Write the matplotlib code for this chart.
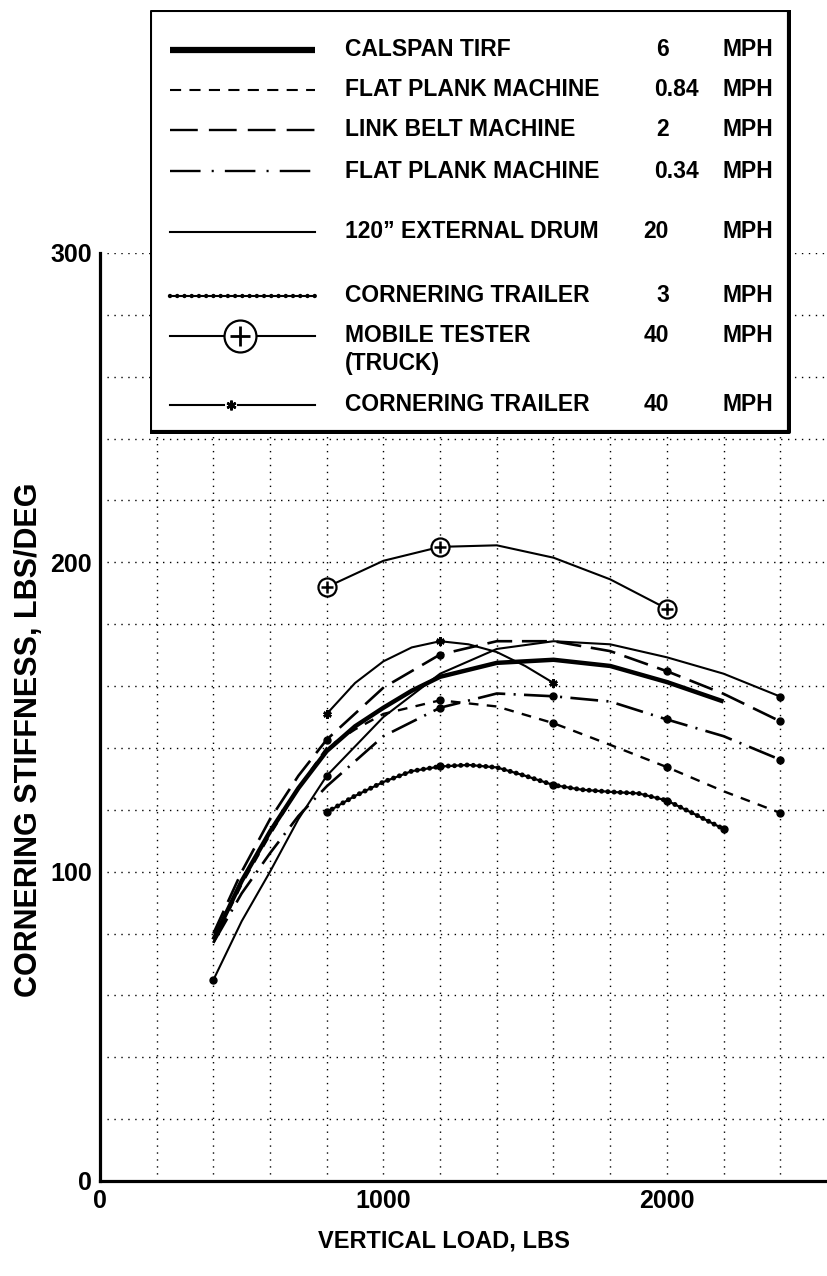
import matplotlib.pyplot as plt

plt.rcParams['font.family'] = ['Liberation Sans', 'DejaVu Sans']
plt.rcParams['font.weight'] = 'bold'
plt.rcParams['lines.scale_dashes'] = False

# vertical load (lbs) vs cornering stiffness (lbs/deg) for each rig
load_tirf = [400, 500, 600, 700, 800, 900, 1000, 1100, 1200, 1400, 1600, 1800, 2000, 2200]
cs_tirf = [78, 97, 113, 127, 139, 147, 153, 158.5, 163, 167.5, 168.5, 166.5, 161.3, 155]

load_plank84 = [400, 500, 600, 700, 800, 900, 1000, 1200, 1400, 1600, 1800, 2000, 2200, 2400]
cs_plank84 = [77, 96, 112, 127, 140, 146, 151, 155.4, 153.4, 148, 141, 133.8, 126, 119]

load_belt = [400, 500, 600, 700, 800, 1000, 1200, 1400, 1600, 1800, 2000, 2200, 2400]
cs_belt = [80, 100, 117, 131, 142.7, 159.5, 170.2, 174.5, 174.5, 171.3, 164.8, 157.5, 148.6]

load_plank34 = [400, 500, 600, 700, 800, 1000, 1200, 1400, 1600, 1800, 2000, 2200, 2400]
cs_plank34 = [77, 93, 106, 118, 127.6, 143.8, 153, 157.6, 156.7, 155, 149.2, 143.8, 136.2]

load_drum = [400, 500, 600, 700, 800, 1000, 1200, 1400, 1600, 1800, 2000, 2200, 2400]
cs_drum = [65, 84, 100, 117, 131, 150, 164, 172, 174.5, 173.5, 169.3, 164, 156.6]

load_ct3 = [800, 900, 1000, 1100, 1200, 1300, 1400, 1500, 1600, 1700, 1800, 1900, 2000, 2100, 2200]
cs_ct3 = [119.2, 124.5, 129, 132.5, 134, 134.5, 133.7, 131, 128, 126.5, 125.8, 125.3, 123, 118.5, 113.8]

load_truck = [800, 1000, 1200, 1400, 1600, 1800, 2000]
cs_truck = [192, 200.5, 205, 205.5, 201.5, 194.5, 185]

load_ct40 = [800, 900, 1000, 1100, 1200, 1300, 1400, 1500, 1600]
cs_ct40 = [151, 161, 168, 172.5, 174.5, 173.5, 171, 166.5, 161]

# loads where test points are marked
marked_plank84 = [1200, 1600, 2000, 2400]
marked_belt = [800, 1200, 2000, 2400]
marked_plank34 = [1200, 1600, 2000, 2400]
marked_drum = [400, 800, 2400]
marked_ct3 = [800, 1200, 1600, 2000, 2200]
marked_truck = [800, 1200, 2000]
marked_ct40 = [800, 1200, 1600]

legend_names = ['CALSPAN TIRF', 'FLAT PLANK MACHINE', 'LINK BELT MACHINE',
                'FLAT PLANK MACHINE', '120\u201d EXTERNAL DRUM', 'CORNERING TRAILER',
                'MOBILE TESTER\n(TRUCK)', 'CORNERING TRAILER']
legend_speeds = ['6', '0.84', '2', '0.34', '20', '3', '40', '40']

W, H = 827, 1276
fig = plt.figure(figsize=(W / 100, H / 100), dpi=100)
ax = fig.add_axes([100 / W, 95 / H, 727 / W, 928 / H])
ax.set_xlim(0, 2565)
ax.set_ylim(0, 300)

xt = list(range(0, 2600, 200))
ax.set_xticks(xt)
ax.set_xticklabels([str(v) if v % 1000 == 0 else '' for v in xt], fontsize=18)
yt = list(range(0, 301, 20))
ax.set_yticks(yt)
ax.set_yticklabels([str(v) if v % 100 == 0 else '' for v in yt], fontsize=18)
ax.tick_params(length=0, pad=6)
ax.grid(True, color='black', linestyle=(0, (1, 4)), linewidth=1)
for s in ['top', 'right']:
    ax.spines[s].set_visible(False)
for s in ['left', 'bottom']:
    ax.spines[s].set_linewidth(2.3)


def idx(loads, marked):
    return [i for i, v in enumerate(loads) if v in marked]


dot = dict(marker='o', markersize=5, markerfacecolor='black', markeredgecolor='black')

ax.plot(load_tirf, cs_tirf, color='black', lw=3.2, solid_capstyle='butt')
ax.plot(load_plank84, cs_plank84, color='black', lw=1.7, linestyle=(0, (7, 6)),
        markevery=idx(load_plank84, marked_plank84), **dot)
ax.plot(load_belt, cs_belt, color='black', lw=1.9, linestyle=(0, (18, 7)),
        markevery=idx(load_belt, marked_belt), **dot)
ax.plot(load_plank34, cs_plank34, color='black', lw=1.9, linestyle=(0, (20, 6, 1.5, 6)),
        markevery=idx(load_plank34, marked_plank34), **dot)
ax.plot(load_drum, cs_drum, color='black', lw=1.5,
        markevery=idx(load_drum, marked_drum), **dot)
ax.plot(load_ct3, cs_ct3, color='black', lw=1.6,
        markevery=idx(load_ct3, marked_ct3), **dot)
ax.plot(load_ct3, cs_ct3, color='black', lw=3.6, linestyle=(0, (0.01, 4.5)),
        dash_capstyle='round')
ax.plot(load_ct40, cs_ct40, color='black', lw=1.5, marker=(6, 2, 0), markersize=6,
        markeredgewidth=1.8, markevery=idx(load_ct40, marked_ct40))
ax.plot(load_truck, cs_truck, color='black', lw=1.5, marker='o', markersize=13,
        markerfacecolor='white', markeredgecolor='black', markeredgewidth=1.6,
        markevery=idx(load_truck, marked_truck))
ax.plot(load_truck, cs_truck, linestyle='none', marker='+', markersize=9,
        markeredgewidth=1.8, color='black', markevery=idx(load_truck, marked_truck))

fig.text(444 / W, 1 - 1241 / H, 'VERTICAL LOAD, LBS', fontsize=17,
         ha='center', va='center')
fig.text(29 / W, 1 - 740 / H, 'CORNERING STIFFNESS, LBS/DEG', fontsize=22,
         rotation=90, ha='center', va='center')

# legend panel, drawn in its own pixel-scaled axes
lx0, ly0, lw_, lh_ = 150, 10, 641, 424
lax = fig.add_axes([lx0 / W, 1 - (ly0 + lh_) / H, lw_ / W, lh_ / H])
lax.set_xlim(0, lw_)
lax.set_ylim(lh_, 0)
lax.axis('off')
lax.fill([0, lw_, lw_, 0], [0, 0, lh_, lh_], color='white', zorder=0)
lax.plot([1, 1, lw_ - 3], [lh_ - 3, 1, 1], color='black', lw=1.5)
lax.plot([lw_ - 2, lw_ - 2, 1], [1, lh_ - 2, lh_ - 2], color='black', lw=3)

rows = [40, 80, 120, 161, 222, 286, 326, 395]
sx = [20, 165]
lax.plot(sx, [rows[0]] * 2, color='black', lw=4.5, solid_capstyle='butt')
lax.plot(sx, [rows[1]] * 2, color='black', lw=1.5, linestyle=(0, (8, 6)))
lax.plot(sx, [rows[2]] * 2, color='black', lw=1.7, linestyle=(0, (20, 8)))
lax.plot(sx, [rows[3]] * 2, color='black', lw=1.7, linestyle=(0, (22, 8, 1.5, 8)))
lax.plot(sx, [rows[4]] * 2, color='black', lw=1.5)
lax.plot(sx, [rows[5]] * 2, color='black', lw=1.5)
lax.plot(sx, [rows[5]] * 2, color='black', lw=3.2, linestyle=(0, (0.01, 5.2)),
         dash_capstyle='round')
lax.plot(sx, [rows[6]] * 2, color='black', lw=1.5)
lax.plot([90], [rows[6]], marker='o', markersize=23, markerfacecolor='white',
         markeredgecolor='black', markeredgewidth=1.6)
lax.plot([90], [rows[6]], marker='+', markersize=15, markeredgewidth=2, color='black')
lax.plot([20, 74], [rows[7]] * 2, color='black', lw=1.5)
lax.plot([88, 165], [rows[7]] * 2, color='black', lw=1.5)
lax.plot([81], [rows[7]], marker=(6, 2, 0), markersize=7, markeredgewidth=1.8,
         color='black')

for r, name, spd in zip(rows, legend_names, legend_speeds):
    lines = name.split('\n')
    lax.text(195, r, lines[0], fontsize=16.5, ha='left', va='center')
    if len(lines) > 1:
        lax.text(195, r + 28, lines[1], fontsize=16.5, ha='left', va='center')
    if '.' in spd:
        lax.text(504, r, spd, fontsize=16.5, ha='left', va='center')
    else:
        lax.text(519, r, spd, fontsize=16.5, ha='right', va='center')
    lax.text(572, r, 'MPH', fontsize=16.5, ha='left', va='center')

fig.savefig('out.png', dpi=100, facecolor='white')
